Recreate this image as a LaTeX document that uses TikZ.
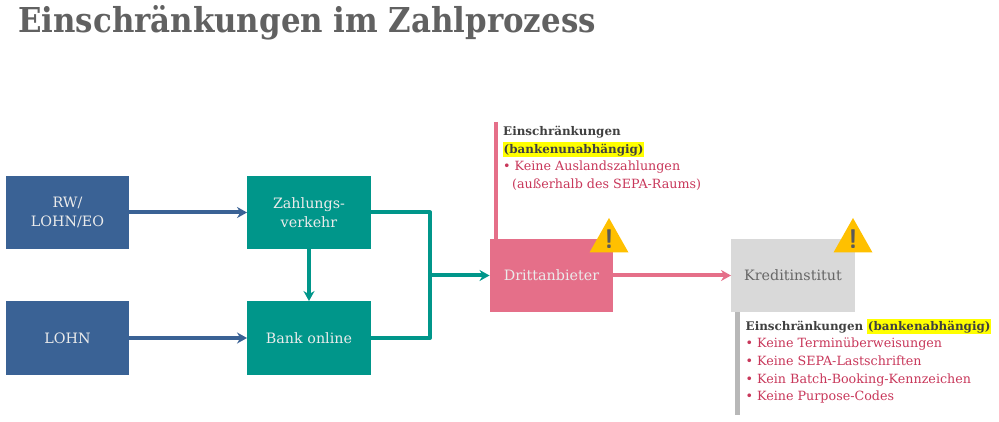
\documentclass[tikz,border=0pt]{standalone}
\usepackage{fontspec}
\setmainfont{DejaVu Serif}
\newfontfamily\titlefont{DejaVu Serif Condensed}
\usetikzlibrary{arrows.meta,calc}
\definecolor{bluebox}{HTML}{3A6295}
\definecolor{greenbox}{HTML}{00968A}
\definecolor{pinkbox}{HTML}{E56F89}
\definecolor{greybox}{HTML}{D9D9D9}
\definecolor{warnfill}{HTML}{FFC000}
\definecolor{warntext}{HTML}{C8375A}
\definecolor{headtext}{HTML}{404040}
\definecolor{markfill}{HTML}{FFFF00}
\tikzset{>={Stealth[length=10pt,width=11pt]}}
\newcommand{\marker}[1]{\colorbox{markfill}{\rule[-3.5pt]{0pt}{14pt}#1}}
\newcommand{\headfont}{\fontsize{11.9}{17.6}\selectfont\bfseries\color{headtext}}
\setlength{\fboxsep}{0.5pt}
\begin{document}
\begin{tikzpicture}[x=1pt,y=-1pt]
      \tikzset{box/.style = {minimum width=123.5pt,minimum height=73.5pt,inner sep=0pt,
          align=center,font=\fontsize{14.3}{18.5}\selectfont,text=white!92!black}}
      \tikzset{link/.style = {line width=4pt,color=#1}}
      \tikzset{note/.style = {anchor=north west,inner sep=0pt,align=left,
          font=\fontsize{12.7}{17.6}\selectfont,text=warntext}}
      \tikzset{warnsign/.style = {text=black!65,inner sep=0pt,
          font=\fontsize{27}{27}\sffamily\bfseries}}

      \useasboundingbox (0,0) rectangle (999,422);

      \node[anchor=base west,inner sep=0pt,text=black!62,
        font={\fontsize{34.3}{34}\titlefont\bfseries}]
        (title) at (18,33) {Einschränkungen im Zahlprozess};

      \node[box,fill=bluebox] (rw) at (67.5,212.5) {RW/\\LOHN/EO};
      \node[box,fill=bluebox] (lohn) at (67.5,338) {LOHN};
      \node[box,fill=greenbox] (zv) at (309,212.5) {Zahlungs-\\verkehr};
      \node[box,fill=greenbox] (bank) at (309,338) {Bank online};
      \node[box,fill=pinkbox] (dritt) at (551.5,275.5) {Drittanbieter};
      \node[box,fill=greybox,text=black!60] (kredit) at (793,275.5) {Kreditinstitut};

      \coordinate (join) at (430,275.5);
      \coordinate (barone) at (495.5,122);
      \coordinate (bartwo) at (737.5,415);

      \draw[link=bluebox,->] (rw) -- (zv);
      \draw[link=bluebox,->] (lohn) -- (bank);
      \draw[link=greenbox,->] (zv) -- (bank);
      \draw[link=greenbox,line join=round] (zv.east) -| (join) |- (bank.east);
      \draw[link=greenbox,->] (join) -- (dritt);
      \draw[link=pinkbox,->] (dritt) -- (kredit);
      \draw[link=pinkbox] (barone) -- (barone |- dritt.north);
      \draw[link=black!28,line width=4.5pt] (bartwo |- kredit.south) -- (bartwo);

      % warning signs
      \foreach \name/\xpos in {one/609,two/853} {
        \fill[warnfill] (\xpos-19.5,252.5) -- (\xpos,218) -- (\xpos+19.5,252.5) -- cycle;
        \node[warnsign] (sign\name) at (\xpos,239) {!};
      }

      \node[note] (noteone) at (503,126) {%
        {\headfont Einschränkungen}\\
        {\headfont\marker{(bankenunabhängig)}}\\
        • Keine Auslandszahlungen\\
        \hspace*{9pt}(außerhalb des SEPA-Raums)};
      \node[note] (notetwo) at (745.5,319) {%
        {\headfont Einschränkungen \marker{(bankenabhängig)}}\\
        • Keine Terminüberweisungen\\
        • Keine SEPA-Lastschriften\\
        • Kein Batch-Booking-Kennzeichen\\
        • Keine Purpose-Codes};
\end{tikzpicture}
\end{document}
